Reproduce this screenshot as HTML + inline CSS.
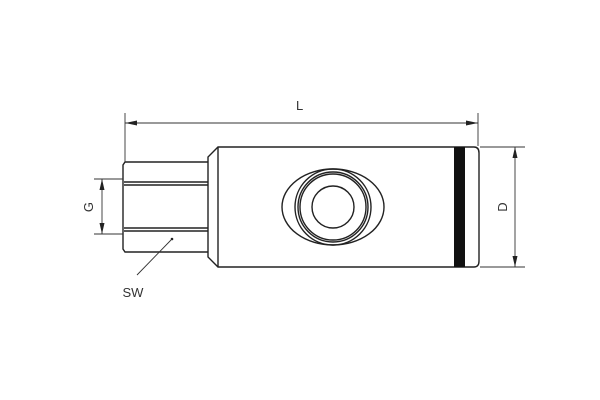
<!DOCTYPE html>
<html><head><style>body{margin:0;background:#fff}svg{display:block}</style></head><body>
<svg width="600" height="400" viewBox="0 0 600 400" xmlns="http://www.w3.org/2000/svg">
<g fill="none" stroke="#222" stroke-width="1.4">
<!-- hex -->
<path d="M208,162 H125 L123,165 V249 L125,252 H208"/>
<line x1="124" y1="182" x2="208" y2="182"/><line x1="124" y1="185" x2="208" y2="185"/>
<line x1="124" y1="228" x2="208" y2="228"/><line x1="124" y1="231" x2="208" y2="231"/>
<!-- body -->
<path d="M218,147 H474 Q479,147 479,153 V261 Q479,267 474,267 H218 L208,257 V157 Z"/>
<line x1="218" y1="147" x2="218" y2="267"/>
<rect x="454" y="147" width="11" height="120" fill="#111" stroke="none"/>
<ellipse cx="333" cy="207" rx="51" ry="38"/>
<circle cx="333" cy="207" r="38"/>
<circle cx="333" cy="207" r="35"/>
<circle cx="333" cy="207" r="33"/>
<circle cx="333" cy="207" r="21"/>
</g>
<g fill="none" stroke="#333" stroke-width="0.9">
<line x1="125" y1="113" x2="125" y2="162"/><line x1="478" y1="113" x2="478" y2="146"/>
<line x1="125" y1="123" x2="478" y2="123"/>
<line x1="94" y1="179" x2="123" y2="179"/><line x1="94" y1="234" x2="123" y2="234"/>
<line x1="102" y1="179" x2="102" y2="234"/>
<line x1="480" y1="147" x2="525" y2="147"/><line x1="480" y1="267" x2="525" y2="267"/>
<line x1="515" y1="147" x2="515" y2="267"/>
<line x1="171" y1="240" x2="137" y2="275"/>
</g>
<g fill="#222">
<path d="M125,123 l12,-2.5 v5 z"/><path d="M478,123 l-12,-2.5 v5 z"/>
<path d="M102,179 l-2.5,11 h5 z"/><path d="M102,234 l-2.5,-11 h5 z"/>
<path d="M515,147 l-2.5,11 h5 z"/><path d="M515,267 l-2.5,-11 h5 z"/>
<circle cx="172" cy="239" r="1.3"/>
</g>
<g font-family="Liberation Sans, sans-serif" font-size="13" fill="#333">
<text x="296" y="110">L</text>
<text x="133" y="297" text-anchor="middle">SW</text>
<text transform="translate(93,207) rotate(-90)" text-anchor="middle">G</text>
<text transform="translate(507,207) rotate(-90)" text-anchor="middle">D</text>
</g>
</svg>
</body></html>
